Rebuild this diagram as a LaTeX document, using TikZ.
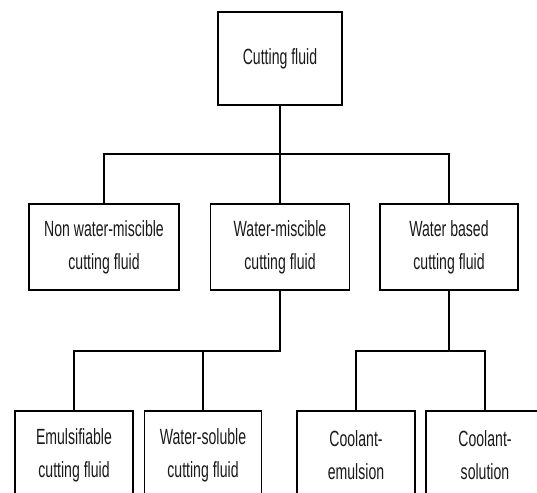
\documentclass[tikz,border=0pt]{standalone}
\usepackage{fontspec}
\setmainfont{Liberation Sans}[FakeStretch=0.64]
\begin{document}
\begin{tikzpicture}[x=1pt,y=-1pt,
  box/.style={draw=black,line width=1.9pt,inner sep=0pt,align=center,
    font=\fontsize{22}{33}\selectfont,text=black!90,
    append after command={\pgfextra{\let\mynode\tikzlastnode}
      [draw=black,line width=1.2pt]
      ([yshift=-1.6pt]\mynode.south west) -- ([yshift=-1.6pt]\mynode.south east)}},
  link/.style={draw=black,line width=1.6pt}]
\useasboundingbox (0,0) rectangle (537,492);
\clip (0,0) rectangle (537,492);
\node[box,minimum width=124pt,minimum height=93pt] (top) at (280,58.5) {Cutting fluid};
\node[box,minimum width=150pt,minimum height=86pt] (m1) at (104,247) {Non water-miscible\\cutting fluid};
\node[box,minimum width=139pt,minimum height=86pt] (m2) at (280,247) {Water-miscible\\cutting fluid};
\node[box,minimum width=138pt,minimum height=86pt] (m3) at (449,247) {Water based\\cutting fluid};
\node[box,minimum width=118pt,minimum height=88pt] (b1) at (74,455) {Emulsifiable\\cutting fluid};
\node[box,minimum width=117pt,minimum height=88pt] (b2) at (203,455) {Water-soluble\\cutting fluid};
\node[box,minimum width=118pt,minimum height=88pt] (b3) at (356,455) {Coolant-\\emulsion};
\node[box,minimum width=118pt,minimum height=88pt] (b4) at (485,455) {Coolant-\\solution};
\coordinate (j1) at (280,154);
\coordinate (j2) at (280,351);
\coordinate (j3) at (449,351);
\draw[link] (top.south) -- (m2.north);
\draw[link] (m1.north) |- (j1) -| (m3.north);
\draw[link] (m2.south) -- (j2) -| (b1.north);
\draw[link] (b2.north) -- (b2.north |- j2);
\draw[link] (m3.south) -- (j3);
\draw[link] (b3.north) |- (j3) -| (b4.north);
\end{tikzpicture}
\end{document}
